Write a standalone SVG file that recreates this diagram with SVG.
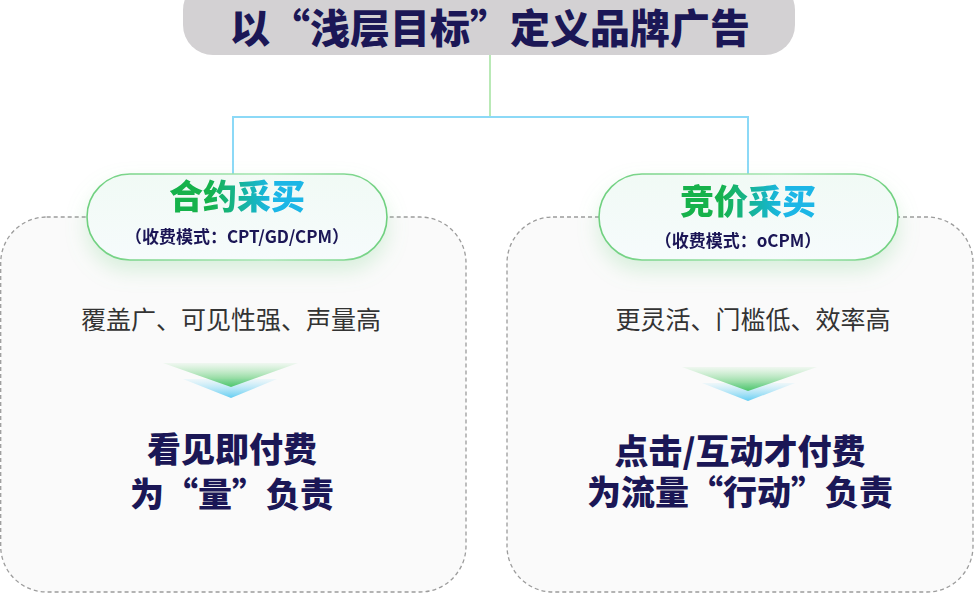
<svg xmlns="http://www.w3.org/2000/svg" width="976" height="594" viewBox="0 0 976 594">
<defs>
<style>
.cjk{font-family:"Noto Sans CJK SC","Noto Sans",sans-serif}
.h{font-weight:900;fill:#1b1756}
.sub{font-weight:700;fill:#1b1756;font-size:17px}
.desc{font-weight:400;fill:#333333;font-size:25px}
.big{font-weight:900;fill:#1b1756;font-size:34px}
.card{fill:#fafafa;stroke:#9c9c9c;stroke-width:1.3;stroke-dasharray:4 3}
.pill{fill:url(#pillFill);stroke:url(#pillStroke);stroke-width:1.6}
</style>
<linearGradient id="tg" x1="0" y1="0" x2="1" y2="0">
<stop offset="0.3" stop-color="#16b24c"/>
<stop offset="0.75" stop-color="#1ab6e6"/>
</linearGradient>
<linearGradient id="pillFill" x1="0" y1="0" x2="0" y2="1">
<stop offset="0" stop-color="#f1faf5"/>
<stop offset="1" stop-color="#f6fbfc"/>
</linearGradient>
<linearGradient id="pillStroke" x1="0" y1="0" x2="1" y2="0">
<stop offset="0" stop-color="#6fd07f"/>
<stop offset="0.6" stop-color="#a7e6b3"/>
<stop offset="1" stop-color="#6fd07f"/>
</linearGradient>
<linearGradient id="gv" x1="0" y1="0" x2="0" y2="1">
<stop offset="0" stop-color="#8fdc98" stop-opacity="0.1"/>
<stop offset="1" stop-color="#4fc66a"/>
</linearGradient>
<linearGradient id="bv" x1="0" y1="0" x2="0" y2="1">
<stop offset="0" stop-color="#a6e2f6" stop-opacity="0.15"/>
<stop offset="1" stop-color="#63cdf2"/>
</linearGradient>
<filter id="glow" x="-20%" y="-30%" width="140%" height="190%">
<feDropShadow dx="0" dy="10" stdDeviation="10" flood-color="#7fd38f" flood-opacity="0.28"/>
</filter>
</defs>

<g id="connectors" fill="none">
<line x1="490" y1="55" x2="490" y2="117" stroke="#a8e4a4" stroke-width="1.6"/>
<polyline points="233,174 233,117 748,117 748,174" stroke="#8cd9f7" stroke-width="2"/>
</g>

<g id="title">
<rect x="183" y="-20" width="612" height="75" rx="30" fill="#d3d1d3"/>
<text class="cjk h" x="490" y="43" font-size="40" text-anchor="middle">以“浅层目标”定义品牌广告</text>
</g>

<g id="card-left">
<rect class="card" x="0.7" y="217" width="465.3" height="375" rx="46"/>
<text class="cjk desc" x="231" y="329" text-anchor="middle">覆盖广、可见性强、声量高</text>
<polygon points="183,379 277,379 231,398" fill="url(#bv)"/>
<polygon points="163,363 298,363 231,387" fill="url(#gv)"/>
<text class="cjk big" x="232" y="462" text-anchor="middle">看见即付费</text>
<text class="cjk big" x="232" y="507" text-anchor="middle">为“量”负责</text>
</g>

<g id="card-right">
<rect class="card" x="507" y="217" width="466" height="375" rx="46"/>
<text class="cjk desc" x="753" y="329" text-anchor="middle">更灵活、门槛低、效率高</text>
<polygon points="702,383 795,383 748,401" fill="url(#bv)"/>
<polygon points="682,367 817,367 748,391" fill="url(#gv)"/>
<text class="cjk big" x="740" y="464" text-anchor="middle">点击/互动才付费</text>
<text class="cjk big" x="740" y="505" text-anchor="middle">为流量“行动”负责</text>
</g>

<g id="pill-left" filter="url(#glow)">
<rect class="pill" x="87" y="174" width="300" height="86" rx="43"/>
<text class="cjk" x="237" y="209" font-size="34" font-weight="900" fill="url(#tg)" text-anchor="middle">合约采买</text>
<text class="cjk sub" x="237" y="243" text-anchor="middle">（收费模式：CPT/GD/CPM）</text>
</g>

<g id="pill-right" filter="url(#glow)">
<rect class="pill" x="599" y="174" width="299" height="86" rx="43"/>
<text class="cjk" x="748" y="214" font-size="34" font-weight="900" fill="url(#tg)" text-anchor="middle">竞价采买</text>
<text class="cjk sub" x="738" y="247" text-anchor="middle">（收费模式：oCPM）</text>
</g>
</svg>
